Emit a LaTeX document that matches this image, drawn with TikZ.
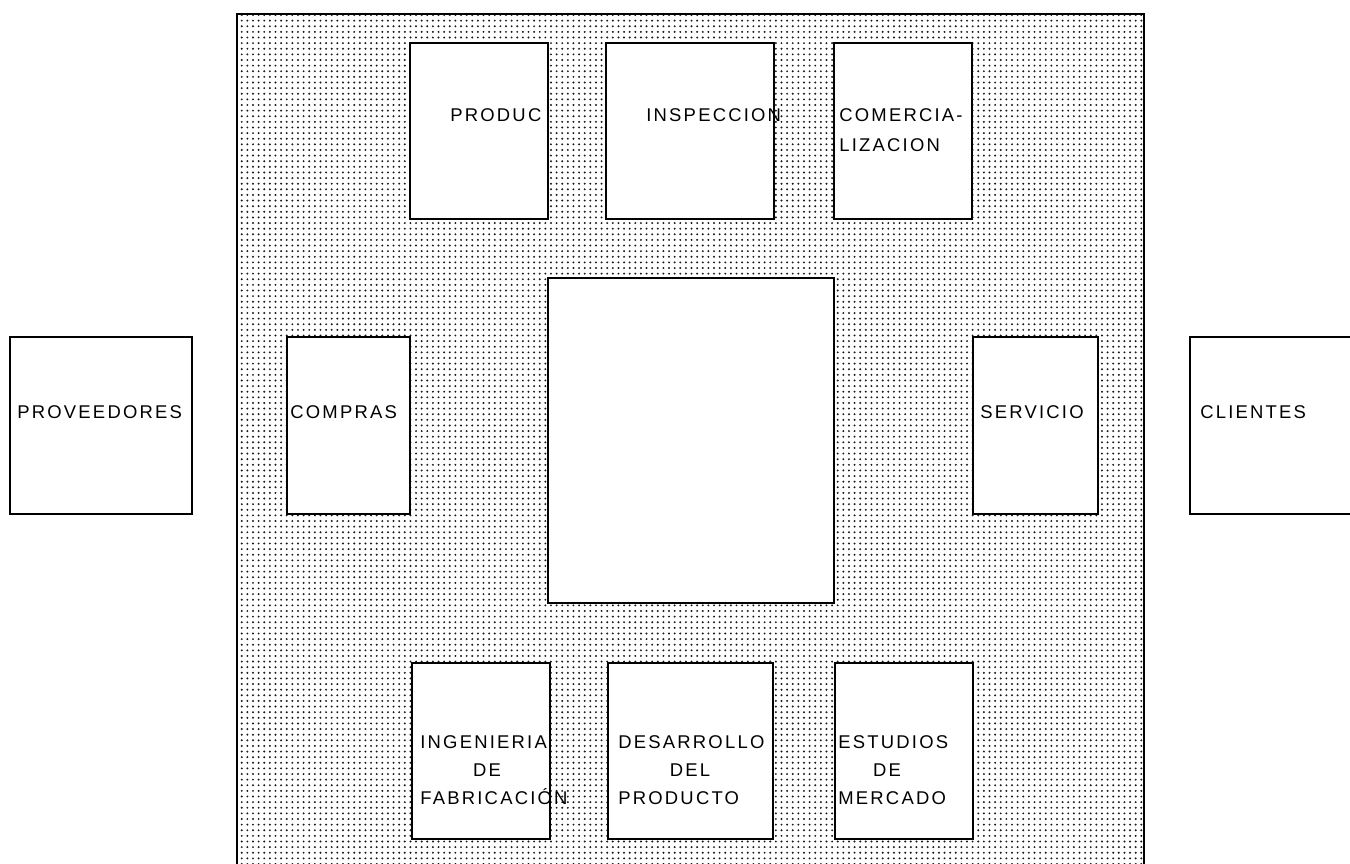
\documentclass[tikz,border=0pt]{standalone}
\usepackage{fontspec}
\setmainfont{Liberation Sans}
\newfontfamily\plotfont{Liberation Sans}[LetterSpace=12]
\usetikzlibrary{patterns}

% coarser dot screen than the stock 'dots'
\pgfdeclarepatternformonly{screendots}{\pgfqpoint{-1pt}{-1pt}}{\pgfqpoint{2pt}{2pt}}{\pgfqpoint{3.2pt}{3.2pt}}%
  {\pgfpathcircle{\pgfqpoint{0pt}{0pt}}{0.62pt}\pgfusepath{fill}}

\tikzset{
  area/.style={draw, line width=1.5pt, pattern=screendots, pattern color=black!90},
  box/.style={draw, line width=1.6pt, fill=white},
  lbl/.style={font=\plotfont\fontsize{10.5}{12}\selectfont, inner sep=0pt, anchor=base west},
  lblc/.style={lbl, anchor=base},
}

\begin{document}
\begin{tikzpicture}[x=0.02cm, y=-0.02cm]
% Page
\useasboundingbox (0,0) rectangle (1350,864);
\clip (0,0) rectangle (1350,864);
\fill[white] (0,0) rectangle (1350,864);

% Shaded block of the company
\draw[area] (237,14) rectangle (1144,900);

% Top row
\foreach \xa/\xb in {410/548, 606/774, 834/972}
  \draw[box] (\xa,43) rectangle (\xb,219);

% Centre
\draw[box] (548,278) rectangle (834,603);

% Middle row
\foreach \xa/\xb in {10/192, 287/410, 973/1098, 1190/1400}
  \draw[box] (\xa,337) rectangle (\xb,514);

% Bottom row
\foreach \xa/\xb in {412/550, 608/773, 835/973}
  \draw[box] (\xa,663) rectangle (\xb,839);

% Labels, top
\node[lbl] (produc) at (450,122) {PRODUC};
\node[lbl] (inspeccion) at (646,122) {INSPECCION};
\node[lbl] (comercia) at (839,122) {COMERCIA-};
\node[lbl] (lizacion) at (839,152) {LIZACION};

% Labels, middle
\node[lbl] (proveedores) at (17,419) {PROVEEDORES};
\node[lbl] (compras) at (290,419) {COMPRAS};
\node[lbl] (servicio) at (980,419) {SERVICIO};
\node[lbl] (clientes) at (1200,419) {CLIENTES};

% Labels, bottom
\node[lbl] (ingenieria) at (420,749) {INGENIERIA};
\node[lblc] (de1) at (487,777) {DE};
\node[lbl] (fabricacion) at (420,805) {FABRICACIÓN};
\node[lbl] (desarrollo) at (618,749) {DESARROLLO};
\node[lblc] (del) at (690,777) {DEL};
\node[lbl] (producto) at (618,805) {PRODUCTO};
\node[lbl] (estudios) at (838,749) {ESTUDIOS};
\node[lblc] (de2) at (887,777) {DE};
\node[lbl] (mercado) at (838,805) {MERCADO};
\end{tikzpicture}
\end{document}
